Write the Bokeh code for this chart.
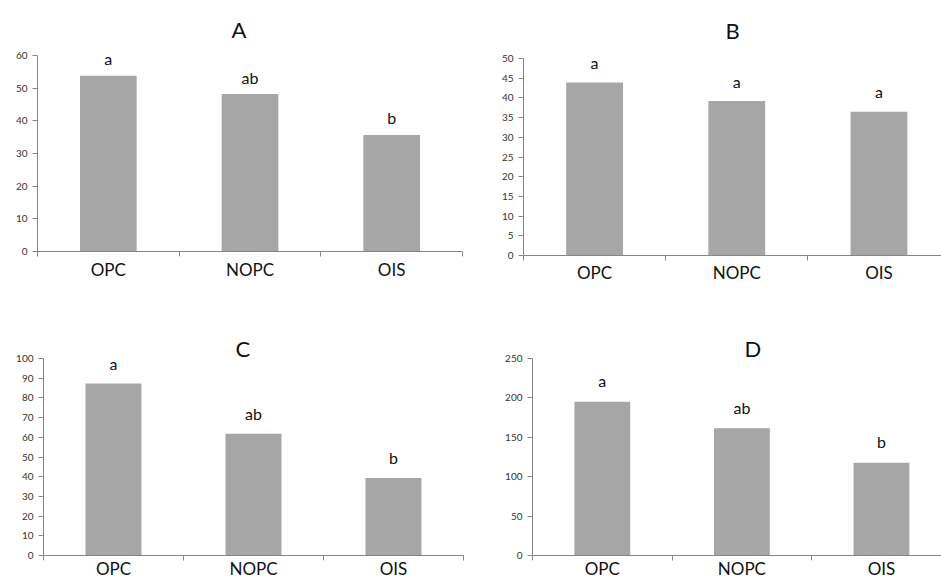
from bokeh.plotting import figure
from bokeh.models import Range1d, FixedTicker, ColumnDataSource
from bokeh.layouts import column, row
from bokeh.embed import file_html
from bokeh.resources import INLINE
from bokeh.core.properties import value

categories = ["OPC", "NOPC", "OIS"]

values_A = [53.8, 48.2, 35.7]
letters_A = ["a", "ab", "b"]
ticks_A = [0, 10, 20, 30, 40, 50, 60]

values_B = [43.9, 39.2, 36.5]
letters_B = ["a", "a", "a"]
ticks_B = [0, 5, 10, 15, 20, 25, 30, 35, 40, 45, 50]

values_C = [87.3, 61.8, 39.4]
letters_C = ["a", "ab", "b"]
ticks_C = [0, 10, 20, 30, 40, 50, 60, 70, 80, 90, 100]

values_D = [195, 161.5, 117.6]
letters_D = ["a", "ab", "b"]
ticks_D = [0, 50, 100, 150, 200, 250]

FONT = "Lato"
BAR = "#a6a6a6"
AXIS = "#868686"


def panel(title, vals, letters, yticks, width, height, borders, xend,
          t_offset, t_standoff, gap, xstd):
    left, right, top, bottom = borders
    centers = [i + 0.5 for i in range(len(categories))]
    bounds = [i for i in range(len(categories) + 1)]
    p = figure(width=width, height=height, output_backend="svg", toolbar_location=None,
               x_range=Range1d(0, xend), y_range=Range1d(yticks[0], yticks[-1]),
               min_border_left=left, min_border_right=right,
               min_border_top=top, min_border_bottom=bottom)
    p.outline_line_color = None
    p.xgrid.visible = False
    p.ygrid.visible = False
    p.background_fill_color = "white"
    p.border_fill_color = "white"

    p.title.text = title
    p.title.align = "left"
    p.title.offset = t_offset
    p.title.standoff = t_standoff
    p.title.text_font = FONT
    p.title.text_font_size = "22px"
    p.title.text_font_style = "normal"
    p.title.text_color = "#111111"

    src = ColumnDataSource(dict(x=centers, top=vals, lab=letters))
    p.vbar(x="x", top="top", bottom=0, width=0.4, source=src,
           fill_color=BAR, line_color=None)
    p.text(x="x", y="top", text="lab", source=src, text_align="center",
           text_baseline="alphabetic", y_offset=-gap,
           text_font=value(FONT), text_font_size="16px", text_color="#111111")

    xa = p.xaxis[0]
    xa.ticker = FixedTicker(ticks=centers, minor_ticks=bounds)
    xa.major_label_overrides = {c: n for c, n in zip(centers, categories)}
    xa.major_tick_line_color = None
    xa.major_tick_out = 0
    xa.major_tick_in = 0
    xa.minor_tick_line_color = AXIS
    xa.minor_tick_out = 5
    xa.minor_tick_in = 0
    xa.axis_line_color = AXIS
    xa.major_label_text_font = FONT
    xa.major_label_text_font_size = "17px"
    xa.major_label_text_color = "#111111"
    xa.major_label_standoff = xstd

    ya = p.yaxis[0]
    ya.ticker = FixedTicker(ticks=yticks, minor_ticks=[])
    ya.axis_line_color = AXIS
    ya.major_tick_line_color = AXIS
    ya.major_tick_out = 5
    ya.major_tick_in = 0
    ya.minor_tick_line_color = None
    ya.major_label_text_font = FONT
    ya.major_label_text_font_size = "10px"
    ya.major_label_text_color = "#333333"
    ya.major_label_standoff = 5
    return p


pA = panel("A", values_A, letters_A, ticks_A, 470, 290, (37, 8, 53, 39), 3.0, 194, 26, 17, 2)
pB = panel("B", values_B, letters_B, ticks_B, 471, 290, (53, 0, 55, 35), 2.94, 202, 29, 20, 1)
pC = panel("C", values_C, letters_C, ticks_C, 470, 291, (43, 7, 68, 26), 3.0, 192, -6, 20, -3)
pD = panel("D", values_D, letters_D, ticks_D, 471, 291, (62, 0, 68, 25), 2.93, 212, -6, 21, -3)

layout = column(row(column(pA), column(pB)), row(column(pC), column(pD)))
open("out.html", "w").write(file_html(layout, INLINE))
